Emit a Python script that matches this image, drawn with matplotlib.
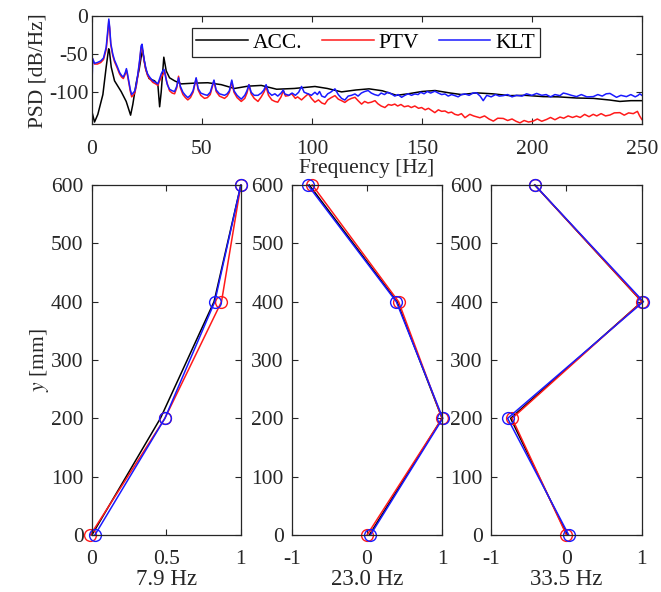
import numpy as np
import matplotlib.pyplot as plt

plt.rcParams['font.family'] = ['Liberation Serif', 'DejaVu Serif']
plt.rcParams['mathtext.fontset'] = 'stix'
plt.rcParams['font.size'] = 15.5

# PSD, ACC. (accelerometer)
acc_f = [0, 1.2, 2.7, 5.0, 6.5, 7.6, 7.9, 8.8, 10.3, 13.3, 15.6, 17.6, 18.6, 20.2,
         21.5, 22.5, 23.0, 23.6, 24.5, 26.0, 28.5, 30.0, 30.8, 31.5, 32.7, 33.8, 35.3,
         37.6, 40.6, 46.7, 52.7, 58.8, 64.8, 70.9, 77.0, 84.0, 92.0, 101.4, 107.0,
         113.5, 120.0, 126.0, 132.0, 138.5, 143.8, 150.0, 156.0, 163.0, 168.0, 174.9,
         182.0, 190.0, 197.0, 205.2, 212.0, 220.3, 228.0, 235.5, 240.0, 245.0, 250.0]
acc_db = [-125, -139, -129, -103, -67, -43, -44, -67, -85, -99, -112, -130, -116, -87,
          -70, -52, -45, -55, -70, -82, -85, -90, -119, -100, -54, -72, -81,
          -85, -89, -88, -87.5, -90, -95, -92, -91, -96, -95, -92.4, -95,
          -99.5, -97, -95.5, -98, -104, -102, -99, -97.7, -101, -103, -100.8,
          -102, -104.4, -104, -105.7, -106, -107.5, -108, -110.2, -112, -111, -111]

# PSD, PTV
ptv_f = [0, 0.4, 1.2, 2.5, 4.0, 5.3, 6.5, 7.2, 7.7, 8.1, 8.6, 9.5, 10.3, 11.5, 12.6,
         13.5, 14.3, 15.2, 15.7, 16.2, 16.8, 17.5, 18.1, 19.0, 19.6, 20.3, 20.9, 21.7,
         22.4, 22.8, 23.3, 23.8, 24.5, 25.3, 26.5, 27.7, 29.0, 30.0, 30.8, 31.6, 32.4,
         33.2, 34.0, 35.3, 36.5, 37.6, 38.6, 39.4, 40.2, 41.4, 42.5, 43.6, 44.8, 46.0,
         47.4, 48.3, 49.5, 51.2, 52.5, 53.8, 55.5, 56.5, 58.0, 60.3, 61.5, 62.5, 63.6,
         64.6, 66.0, 67.9, 69.5, 70.5, 71.4, 72.4, 73.8, 75.5, 77.0, 78.2, 79.2, 80.3,
         81.8, 83.2, 84.5, 86.0, 87.0, 88.0, 89.3, 90.8, 92.5, 93.5, 95.3, 96.8, 98.4,
         99.8, 101.4, 103.0, 104.5, 105.9, 107.2, 108.8, 110.5, 112.0, 113.5, 115.0,
         116.5, 118.0, 119.6, 121.0, 122.6, 124.0, 125.5, 127.0, 128.7, 130.0, 131.5,
         133.2, 134.8, 136.2, 137.7, 139.0, 140.5, 142.0, 143.8, 145.2, 146.8, 148.5,
         149.9, 151.5, 153.0, 154.5, 155.9, 157.5, 159.0, 160.5, 162.0, 163.5, 165.0,
         166.5, 168.0, 169.6, 171.8, 173.5, 176.4, 178.5, 180.5, 182.5, 184.5, 187.0,
         189.0, 191.0, 192.8, 194.6, 196.5, 198.5, 200.6, 202.5, 204.5, 206.7, 208.5,
         210.5, 212.8, 214.5, 216.5, 218.5, 220.3, 222.0, 224.0, 226.0, 227.9, 229.5,
         231.5, 233.5, 235.5, 237.5, 240.0, 242.0, 244.0, 246.1, 248.0, 249.0, 250.0]
ptv_db = [-52, -58, -63, -63, -61, -57, -44, -24, -7, -17, -38, -52, -60, -68, -76,
          -80, -82, -76, -71, -78, -88, -99, -106, -103, -100, -90, -78, -60,
          -41, -40, -50, -60, -70, -78, -83, -87, -89, -91, -85, -80, -76,
          -73, -86, -98, -101, -102, -94, -79, -94, -103, -107, -110, -107, -100,
          -82, -97, -104, -108, -107, -103, -85, -99, -105, -108, -105, -100, -86,
          -100, -107, -112, -108, -101, -90, -102, -108, -112, -106, -100, -93, -104,
          -110, -112, -113, -106, -98, -105, -104.4, -102, -108, -106, -110, -106, -102,
          -108, -113, -110, -114, -115.5, -110, -107, -104.4, -109, -111, -113.3,
          -110, -108, -106.6, -111, -115.5, -112, -114, -113, -111, -115, -118,
          -120, -116, -117, -115.5, -118, -116, -119, -117.8, -120, -118, -121,
          -120, -123, -121, -124, -126.7, -123, -125, -124.5, -127, -126, -128.9,
          -130, -128, -133.3, -128.9, -131, -133.4, -131, -135, -137.8, -134, -134.3,
          -137, -135, -138, -140.1, -137, -139, -137.8, -135, -138, -135.6, -133,
          -136, -132.5, -134, -131, -133, -131.2, -133, -129, -132, -128.9, -131,
          -128, -131, -129.8, -127, -126.7, -130, -127, -128, -125, -131, -135.6]

# PSD, KLT
klt_f = [0, 0.4, 1.2, 2.5, 4.0, 5.3, 6.5, 7.2, 7.7, 8.1, 8.6, 9.5, 10.3, 11.5, 12.6,
         13.5, 14.3, 15.2, 15.7, 16.2, 16.8, 17.5, 18.1, 19.0, 19.6, 20.3, 20.9, 21.7,
         22.4, 22.8, 23.3, 23.8, 24.5, 25.3, 26.5, 27.7, 29.0, 30.0, 30.8, 31.5, 32.2,
         32.8, 33.5, 34.3, 35.3, 36.5, 37.6, 38.6, 39.4, 40.2, 41.4, 42.5, 43.6, 44.8,
         46.0, 47.4, 48.3, 49.5, 51.2, 52.5, 53.8, 55.5, 56.5, 58.0, 60.3, 61.5, 62.5,
         63.6, 64.6, 66.0, 67.9, 69.5, 70.5, 71.4, 72.4, 73.8, 75.5, 77.0, 78.2, 79.2,
         80.3, 81.8, 83.2, 84.5, 86.0, 87.0, 87.7, 89.5, 91.0, 92.5, 94.0, 95.3, 96.5,
         98.4, 99.8, 101.4, 102.5, 103.5, 104.5, 105.9, 107.2, 108.5, 110.5, 112.0,
         113.5, 115.0, 116.5, 118.0, 119.6, 121.0, 122.5, 124.0, 125.6, 127.0, 128.5,
         130.2, 131.5, 133.0, 134.5, 136.2, 137.7, 139.2, 140.8, 142.3, 143.8, 145.3,
         146.8, 148.3, 149.5, 151.0, 152.5, 154.0, 155.9, 157.5, 159.0, 160.5, 162.0,
         163.5, 165.0, 166.5, 168.0, 169.6, 171.5, 173.2, 174.9, 176.5, 177.9, 179.5,
         181.5, 183.5, 185.2, 187.0, 189.0, 191.0, 193.0, 195.5, 197.6, 200.0, 202.2,
         204.5, 206.5, 208.5, 210.5, 212.8, 214.3, 215.8, 218.0, 220.3, 222.5, 225.0,
         227.9, 230.0, 232.0, 233.8, 235.5, 237.0, 238.5, 240.5, 243.0, 245.0, 247.0,
         248.3, 249.1, 250.0]
klt_db = [-92, -56, -62, -61, -59, -55, -41, -20, -4, -15, -36, -50, -58, -66, -74,
          -78, -80, -74, -69, -76, -86, -97, -103, -100, -98, -88, -76, -58,
          -39, -37, -48, -58, -68, -76, -81, -85, -87, -89, -82, -76, -72,
          -70, -80, -90, -96, -98, -99, -92, -81, -92, -100, -104, -107, -104,
          -98, -81, -95, -101, -103, -104, -100, -84, -97, -102, -104, -102, -98,
          -84, -98, -104, -109, -104, -98, -90, -100, -104, -104, -101, -97, -90,
          -100, -104, -102, -105, -101, -97, -102.2, -104, -101, -104, -100, -92.4, -100,
          -102.2, -104, -100, -103, -99, -105, -106.6, -102, -100, -95.5, -103,
          -108, -110.2, -105, -104, -102.2, -105, -101, -99, -97.7, -101, -103,
          -104.4, -101, -103, -100, -102.2, -105, -103, -106.6, -104, -102, -104,
          -102.2, -103, -100, -102, -99, -101, -98.6, -101, -103, -102.2, -105,
          -103, -104.4, -106, -103, -102.2, -104, -101, -100.8, -105, -111, -104,
          -106, -103, -105, -104.4, -103, -106, -104, -105, -102, -104, -101.5,
          -104, -103, -106, -103, -104.4, -101, -102, -104, -105.7, -103, -106,
          -105.7, -103, -105, -102, -101.5, -104, -106.6, -104, -105.7, -103, -106,
          -104, -102, -104]

# mode shapes
heights = [0, 200, 400, 600]
mode_labels = ['7.9 Hz', '23.0 Hz', '33.5 Hz']
acc_modes = [[0.0, 0.46, 0.82, 1.0],
             [0.03, 1.0, 0.40, -0.77],
             [0.01, -0.74, 1.0, -0.42]]
ptv_modes = [[-0.01, 0.49, 0.87, 1.0],
             [0.0, 1.0, 0.42, -0.73],
             [0.0, -0.72, 1.0, -0.42]]
klt_modes = [[0.02, 0.49, 0.825, 1.0],
             [0.045, 1.01, 0.39, -0.79],
             [0.03, -0.78, 1.02, -0.42]]
mode_xlims = [(0, 1), (-1, 1), (-1, 1)]
mode_xticks = [[0, 0.5, 1], [-1, 0, 1], [-1, 0, 1]]
mode_xticklabels = [['0', '0.5', '1'], ['-1', '0', '1'], ['-1', '0', '1']]

axcol = '#262626'
blue = '#1a1aff'
red = '#ff1a1a'


def matlab_axes(ax, xpad, ypad):
    for sp in ax.spines.values():
        sp.set_color(axcol)
        sp.set_linewidth(0.9)
    ax.tick_params(direction='in', top=True, right=True, colors=axcol,
                   labelcolor=axcol, length=4, width=0.8, labelsize=15.5)
    ax.tick_params(axis='x', pad=xpad)
    ax.tick_params(axis='y', pad=ypad)


fig = plt.figure(figsize=(6.61, 5.92), dpi=100)

ax = fig.add_axes([0.139, 0.790, 0.832, 0.183])
ax.plot(acc_f, acc_db, color='k', lw=1.1, label='ACC.')
ax.plot(ptv_f, ptv_db, color=red, lw=1.1, label='PTV')
ax.plot(klt_f, klt_db, color=blue, lw=1.1, label='KLT')
ax.set_xlim(0, 250)
ax.set_ylim(-142, 0)
ax.set_xticks([0, 50, 100, 150, 200, 250])
ax.set_yticks([-100, -50, 0])
ax.set_yticklabels(['-100', '-50', '0'])
matlab_axes(ax, 11, 2.5)
ax.set_xlabel('Frequency [Hz]', color=axcol, labelpad=0)
ax.set_ylabel('PSD [dB/Hz]', color=axcol, labelpad=1)
leg = ax.legend(loc='center', bbox_to_anchor=(0.498, 0.755), ncol=3, fontsize=15.5,
                handlelength=2.4, columnspacing=0.9, handletextpad=0.25,
                borderpad=0.2, fancybox=False, framealpha=1)
leg.get_frame().set_edgecolor(axcol)
leg.get_frame().set_linewidth(0.9)

lefts = [0.139, 0.4418, 0.7428]
widths = [0.2254, 0.227, 0.2284]
for i in range(3):
    a = fig.add_axes([lefts[i], 0.0963, widths[i], 0.5912])
    a.plot(acc_modes[i], heights, color='k', lw=1.1)
    a.plot(ptv_modes[i], heights, color=red, lw=1.1, marker='o', ms=8.5, mfc='none')
    a.plot(klt_modes[i], heights, color=blue, lw=1.1, marker='o', ms=8.5, mfc='none')
    a.set_xlim(*mode_xlims[i])
    a.set_ylim(0, 600)
    a.set_xticks(mode_xticks[i])
    a.set_xticklabels(mode_xticklabels[i])
    a.set_yticks(np.arange(0, 601, 100))
    matlab_axes(a, 11, 6)
    a.set_xlabel(mode_labels[i], color=axcol, fontsize=16.5, labelpad=0)
    for m in a.lines:
        m.set_clip_on(False)
    if i == 0:
        a.set_ylabel('$y$ [mm]', color=axcol, labelpad=0)

fig.savefig('out.png', dpi=100)
